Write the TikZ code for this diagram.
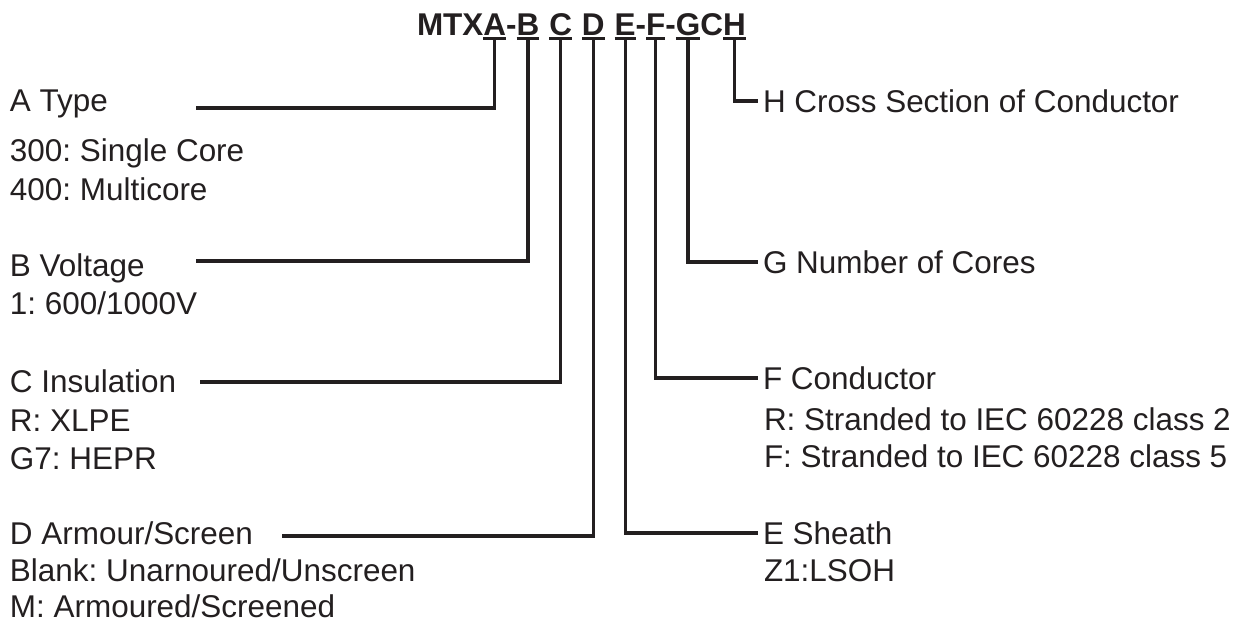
\documentclass[tikz,border=0pt]{standalone}
\usepackage{fontspec}
\setmainfont{Liberation Sans}
\usetikzlibrary{positioning}
\tikzset{every picture/.style={line width=1.8pt}}
\definecolor{code-ink}{RGB}{35,31,32}
\frenchspacing

\begin{document}
\begin{tikzpicture}
    [x=0.02cm, y=-0.02cm,
    letter/.style = {inner sep=0pt, outer sep=0pt, text depth=0.05cm, text=code-ink,
            font=\bfseries\fontsize{17.9}{22}\selectfont},
    head/.style = {inner xsep=0.1cm, inner ysep=0pt, outer sep=0pt, anchor=west, text=code-ink,
            font=\fontsize{17.9}{22}\selectfont},
    info/.style = {inner sep=0pt, outer sep=0pt, anchor=base west, text=code-ink,
            font=\fontsize{17.9}{22}\selectfont},
    draw=code-ink,
    ]
    \useasboundingbox (0, 0) rectangle (1255, 624);
    
    % code on top
	\node[letter, anchor=base west] (code-mtx) at (417, 36) {MTX};
	\node[letter, base right=0pt of code-mtx] (code-a) {A};
	\node[letter, base right=0pt of code-a] (dash-ab) {-};
	\node[letter, base right=0pt of dash-ab] (code-b) {B};
	\node[letter, base right=0.2cm of code-b] (code-c) {C};
	\node[letter, base right=0.2cm of code-c] (code-d) {D};
	\node[letter, base right=0.2cm of code-d] (code-e) {E};
	\node[letter, base right=0pt of code-e] (dash-ef) {-};
	\node[letter, base right=0pt of dash-ef] (code-f) {F};
	\node[letter, base right=0pt of code-f] (dash-fg) {-};
	\node[letter, base right=0pt of dash-fg] (code-g) {G};
	\node[letter, base right=0pt of code-g] (code-cc) {C};
	\node[letter, base right=0pt of code-cc] (code-h) {H};
	
	\draw (code-a.south west) -- (code-a.south east);
	\draw (code-b.south west) -- (code-b.south east);
	\draw (code-c.south west) -- (code-c.south east);
	\draw (code-d.south west) -- (code-d.south east);
	\draw (code-e.south west) -- (code-e.south east);
	\draw (code-f.south west) -- (code-f.south east);
	\draw (code-g.south west) -- (code-g.south east);
	\draw (code-h.south west) -- (code-h.south east);
	
	
	% left side
	\node[info] (lbl-a) at (10, 112) {A Type};
	\node[info] (a-300) at (10, 162) {300: Single Core};
	\node[info] (a-400) at (10, 201) {400: Multicore};
	
	\node[info] (lbl-b) at (10, 277) {B Voltage};
	\node[info] (b-1) at (10, 315) {1: 600/1000V};
	
	\node[info] (lbl-c) at (10, 393) {C Insulation};
	\node[info] (c-r) at (10, 432) {R: XLPE};
	\node[info] (c-g7) at (10, 470) {G7: HEPR};
	
	\node[info] (lbl-d) at (10, 545) {D Armour/Screen};
	\node[info] (d-blank) at (10, 582) {Blank: Unarnoured/Unscreen};
	\node[info] (d-m) at (10, 618) {M: Armoured/Screened};
	
	\coordinate (a-end) at (196, 108);
	\coordinate (b-end) at (196, 261);
	\coordinate (c-end) at (200, 382);
	\coordinate (d-end) at (282, 536);
	
	
	% right side
	\node[head] (lbl-h) at (758, 101) {H Cross Section of Conductor};
	
	\node[head] (lbl-g) at (758, 262) {G Number of Cores};
	
	\node[head] (lbl-f) at (758, 378) {F Conductor};
	\node[info] (f-r) at (764, 431) {R: Stranded to IEC 60228 class 2};
	\node[info] (f-f) at (764, 468) {F: Stranded to IEC 60228 class 5};
	
	\node[head] (lbl-e) at (758, 533) {E Sheath};
	\node[info] (e-z1) at (764, 582) {Z1:LSOH};
	
	
	\draw (code-a.south) |- (a-end);
	\draw (code-b.south) |- (b-end);
	\draw (code-c.south) |- (c-end);
	\draw (code-d.south) |- (d-end);
	
	\draw (code-e.south) |- (lbl-e.west);
	\draw (code-f.south) |- (lbl-f.west);
	\draw (code-g.south) |- (lbl-g.west);
	\draw (code-h.south) |- (lbl-h.west);
\end{tikzpicture}
\end{document}
